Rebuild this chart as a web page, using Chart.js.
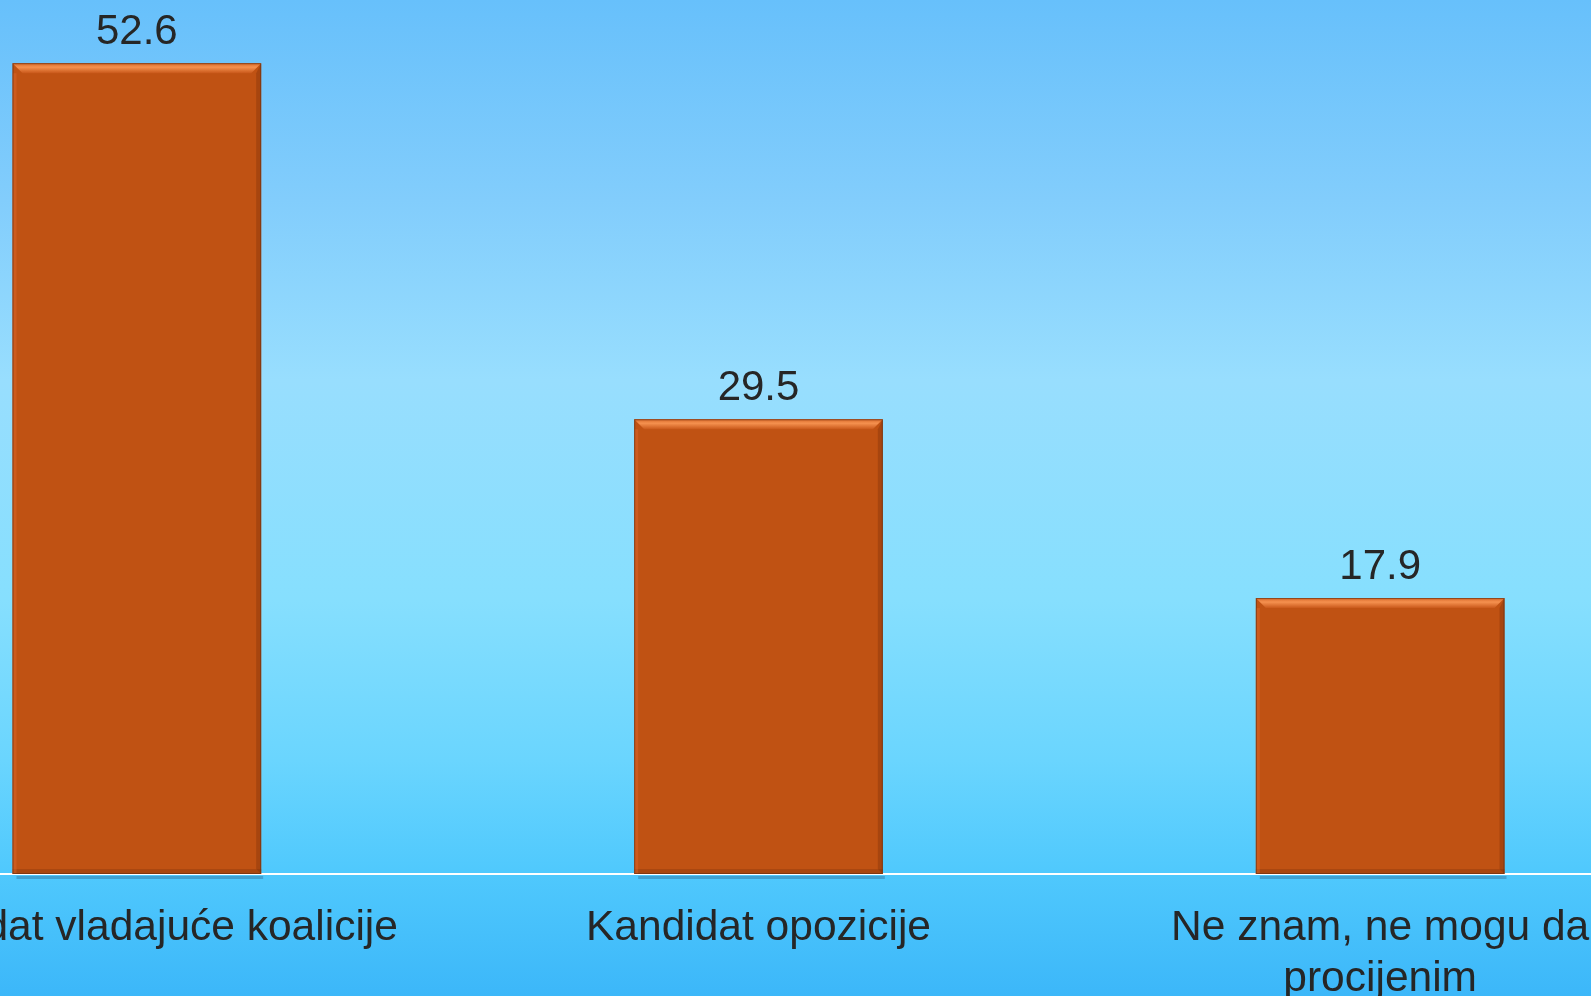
<!DOCTYPE html>
<html>
<head>
<meta charset="utf-8">
<script src="https://cdn.jsdelivr.net/npm/chart.js@4"></script>
<style>
  html, body { margin: 0; padding: 0; width: 1591px; height: 996px; overflow: hidden; }
  body {
    background: linear-gradient(to bottom,
      #67c0fb 0px, #82cdfc 200px, #98defe 380px, #86dffe 600px,
      #6ad5fe 760px, #50c9fd 870px, #3cb7f9 996px);
  }
  #wrap { position: absolute; left: -174px; top: 0; width: 1865px; height: 996px; }
</style>
</head>
<body>
<div id="wrap"><canvas id="myChart"></canvas></div>
<script>
// podaci
const categories = [
  'Kandidat vladajuće koalicije',
  'Kandidat opozicije',
  ['Ne znam, ne mogu da', 'procijenim']
];
const values = [52.6, 29.5, 17.9];

const fontFamily = "'Liberation Sans', Arial, sans-serif";

// vrijednosti iznad stubova + 3D ivice
const barDecor = {
  id: 'barDecor',
  afterDatasetsDraw(chart) {
    const ctx = chart.ctx;
    const meta = chart.getDatasetMeta(0);
    meta.data.forEach((bar, i) => {
      const left = bar.x - bar.width / 2;
      const right = bar.x + bar.width / 2;
      const top = bar.y;
      const bottom = bar.base;
      const b = 10;
      ctx.save();
      // gornja ivica (svjetlija)
      let g = ctx.createLinearGradient(0, top, 0, top + b);
      g.addColorStop(0, '#d86a2a');
      g.addColorStop(0.4, '#f5914f');
      g.addColorStop(1, '#c9581a');
      ctx.fillStyle = g;
      ctx.beginPath();
      ctx.moveTo(left, top); ctx.lineTo(right, top);
      ctx.lineTo(right - b, top + b); ctx.lineTo(left + b, top + b);
      ctx.closePath(); ctx.fill();
      // desna ivica (tamnija)
      ctx.fillStyle = 'rgba(120,45,10,0.35)';
      ctx.beginPath();
      ctx.moveTo(right, top); ctx.lineTo(right, bottom);
      ctx.lineTo(right - 5, bottom - 5); ctx.lineTo(right - 5, top + b);
      ctx.closePath(); ctx.fill();
      // donja ivica
      ctx.fillStyle = 'rgba(120,45,10,0.3)';
      ctx.fillRect(left, bottom - 5, bar.width, 5);
      // lijeva ivica
      ctx.fillStyle = 'rgba(230,110,50,0.35)';
      ctx.fillRect(left, top + b, 4, bottom - top - b);
      // obrub
      ctx.strokeStyle = 'rgba(110,50,20,0.7)';
      ctx.lineWidth = 1;
      ctx.strokeRect(left + 0.5, top + 0.5, bar.width - 1, bottom - top - 1);
      // sjena ispod
      ctx.fillStyle = 'rgba(40,90,130,0.35)';
      ctx.fillRect(left + 4, bottom + 2, bar.width - 2, 3);
      // vrijednost
      ctx.fillStyle = '#262626';
      ctx.font = '42px ' + fontFamily;
      ctx.textAlign = 'center';
      ctx.textBaseline = 'alphabetic';
      ctx.fillText(values[i].toFixed(1), bar.x, top - 19);
      ctx.restore();
    });
  }
};

const ctx = document.getElementById('myChart').getContext('2d');
new Chart(ctx, {
  type: 'bar',
  data: {
    labels: categories,
    datasets: [{
      data: values,
      backgroundColor: '#c05213',
      borderWidth: 0,
      barPercentage: 0.4,
      categoryPercentage: 1.0
    }]
  },
  options: {
    responsive: true,
    maintainAspectRatio: false,
    animation: false,
    layout: { padding: 0 },
    plugins: {
      legend: { display: false },
      tooltip: { enabled: false }
    },
    scales: {
      y: {
        display: false,
        min: 0,
        max: 56.7
      },
      x: {
        grid: { display: false, drawTicks: false },
        border: { display: true, color: '#ffffff', width: 2 },
        ticks: {
          color: '#262626',
          font: { family: fontFamily, size: 42.5 },
          padding: 29,
          maxRotation: 0,
          autoSkip: false
        },
        afterFit(scale) { scale.height = 122; }
      }
    }
  },
  plugins: [barDecor]
});
</script>
</body>
</html>
